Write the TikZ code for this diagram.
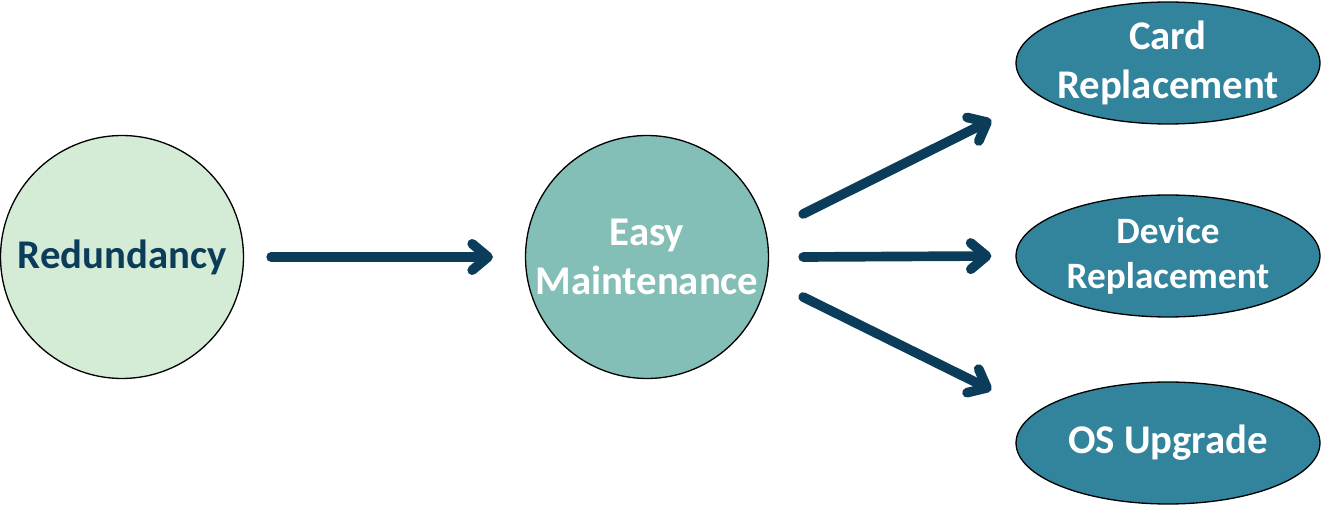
\documentclass[tikz,border=0pt]{standalone}
\usepackage{fontspec}
\setmainfont{Carlito}
\usepackage{tikz}
\usetikzlibrary{shapes.geometric, arrows.meta, positioning, calc}

\definecolor{navy}{HTML}{0B3D5A}
\definecolor{mint}{HTML}{D4EBD6}
\definecolor{sea}{HTML}{84BFB7}
\definecolor{deepteal}{HTML}{31849B}
\newcommand{\bubblefont}{\fontsize{23.2}{28}\selectfont\bfseries}

\begin{document}
\begin{tikzpicture}[x=0.02cm, y=-0.02cm,
  bubble/.style={circle, draw=black, line width=0.75pt, minimum size=4.86cm, inner sep=-1cm, align=center, font=\bubblefont},
  task/.style={ellipse, draw=black, line width=0.75pt, fill=deepteal, text=white, minimum width=6.08cm, minimum height=2.44cm, inner sep=-1cm, align=center, font=\bubblefont},
  flow/.style={draw=navy, line width=5.5pt, line cap=round, -{Straight Barb[round, length=9pt, width=15pt]}}]
\useasboundingbox (0,0) rectangle (1322,506);

% Circles
\node[bubble, fill=mint, text=navy] (redund) at (122,257) {Redundancy};
\node[bubble, fill=sea, text=white] (easy) at (647,257) {Easy\\Maintenance};

% Ellipses on the right
\node[task] (card) at (1168,63) {Card\\Replacement};
\node[task, font=\fontsize{21.2}{25.4}\selectfont\bfseries] (device) at (1168,256) {Device\\Replacement};
\node[task] (osup) at (1168,443) {OS Upgrade};

% Arrows
\draw[flow] ([shift={(27,0)}]redund.east) -- ([shift={(-32,0)}]easy.west);
\draw[flow] ([shift={(34,-43)}]easy.east) -- ([shift={(-24,57)}]card.west);
\draw[flow] ([shift={(34,0)}]easy.east) -- ([shift={(-24,0)}]device.west);
\draw[flow] ([shift={(34,40)}]easy.east) -- ([shift={(-24,-53)}]osup.west);
\end{tikzpicture}
\end{document}
